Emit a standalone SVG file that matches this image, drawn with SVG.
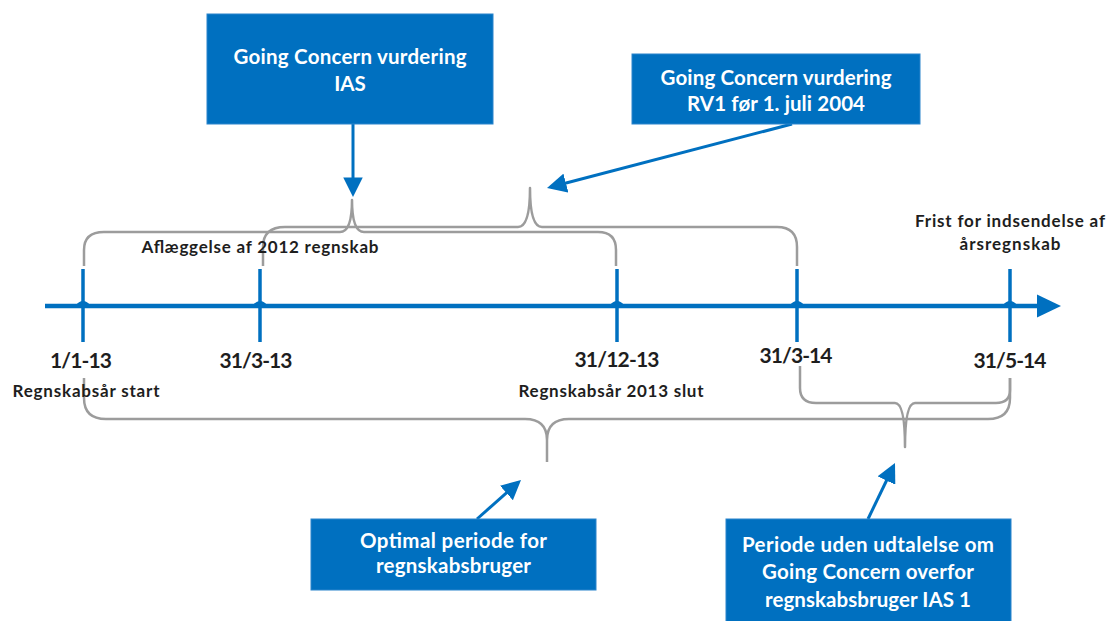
<svg xmlns="http://www.w3.org/2000/svg" width="1107" height="621" viewBox="0 0 1107 621">
  <style>
    .box { fill: #0070c0; stroke: #2a84cc; stroke-width: 1; }
    .bt { font-family: Lato, "Open Sans", sans-serif; font-weight: bold; font-size: 20.5px; fill: #ffffff; text-anchor: middle; }
    .date { font-family: Lato, "Open Sans", sans-serif; font-weight: bold; font-size: 21px; fill: #1e1e1e; text-anchor: middle; }
    .lbl { font-family: Lato, "Open Sans", sans-serif; font-weight: bold; font-size: 17px; fill: #1e1e1e; text-anchor: middle; }
    .brace { fill: none; stroke: #9c9c9c; stroke-width: 2.5; stroke-linejoin: round; }
    .conn { fill: none; stroke: #0070c0; stroke-width: 3; }
    .tl { fill: none; stroke: #0070c0; stroke-width: 4.5; }
    .tick { fill: none; stroke: #0070c0; stroke-width: 3.5; }
    .hump { fill: #0070c0; }
  </style>
  <defs>
    <marker id="ah" viewBox="0 0 10 10" refX="8" refY="5" markerWidth="6.5" markerHeight="6.5" orient="auto">
      <path d="M0,0 L10,5 L0,10 z" fill="#0070c0"/>
    </marker>
  </defs>

  <rect width="1107" height="621" fill="#ffffff"/>

  <!-- timeline -->
  <g id="timeline">
    <line class="tl" x1="45" y1="306" x2="1042" y2="306"/>
    <polygon points="1037,294.5 1061,306 1037,317.5" fill="#0070c0"/>
    <line class="tick" x1="83" y1="269" x2="83" y2="342"/>
    <line class="tick" x1="260" y1="269" x2="260" y2="342"/>
    <line class="tick" x1="617" y1="269" x2="617" y2="342"/>
    <line class="tick" x1="797" y1="269" x2="797" y2="342"/>
    <line class="tick" x1="1010" y1="269" x2="1010" y2="342"/>
    <path class="hump" d="M75,306 Q83,296 91,306 z M252,306 Q260,296 268,306 z M609,306 Q617,296 625,306 z M789,306 Q797,296 805,306 z M1002,306 Q1010,296 1018,306 z"/>
  </g>

  <!-- braces -->
  <g id="braces">
    <path id="brace-a" class="brace" d="M84,266 V250 Q84,232 104,232 H340 Q352,232 352,200 Q352,232 364,232 H598 Q616,232 616,250 V266"/>
    <path id="brace-b" class="brace" d="M263,266 V247 Q263,227 285,227 H518 Q530,227 530,188 Q530,227 542,227 H777 Q797,227 797,247 V266"/>
    <path id="brace-c" class="brace" d="M84,378 V398 Q84,419 106,419 H525 Q547,419 547,440 V462 M547,440 Q547,419 569,419 H988 Q1010,419 1010,398 V378"/>
    <path id="brace-d" class="brace" d="M800,366 V388 Q800,403 816,403 H895 Q905,403 905,447 Q905,403 915,403 H996 Q1010,403 1010,390 V378"/>
  </g>

  <!-- connectors -->
  <g id="connectors">
    <line class="conn" x1="353" y1="124" x2="353" y2="193" marker-end="url(#ah)"/>
    <line class="conn" x1="792" y1="124" x2="550.8" y2="187" marker-end="url(#ah)"/>
    <line class="conn" x1="477" y1="519" x2="518.1" y2="482.6" marker-end="url(#ah)"/>
    <line class="conn" x1="868" y1="519" x2="893.3" y2="466.5" marker-end="url(#ah)"/>
  </g>

  <!-- nodes -->
  <g id="node-gc-ias">
    <rect class="box" x="207" y="14" width="286" height="110"/>
    <text class="bt" x="350" y="64" textLength="233">Going Concern vurdering</text>
    <text class="bt" x="350" y="91">IAS</text>
  </g>
  <g id="node-gc-rv1">
    <rect class="box" x="632" y="54" width="288" height="70"/>
    <text class="bt" x="776" y="85" textLength="231">Going Concern vurdering</text>
    <text class="bt" x="776" y="111" textLength="178">RV1 før 1. juli 2004</text>
  </g>
  <g id="node-optimal">
    <rect class="box" x="311" y="519" width="285" height="71"/>
    <text class="bt" x="453.5" y="548" textLength="187">Optimal periode for</text>
    <text class="bt" x="453.5" y="573" textLength="155">regnskabsbruger</text>
  </g>
  <g id="node-periode">
    <rect class="box" x="726" y="519" width="285" height="110"/>
    <text class="bt" x="868" y="552" textLength="252">Periode uden udtalelse om</text>
    <text class="bt" x="868" y="579" textLength="212">Going Concern overfor</text>
    <text class="bt" x="868" y="607" textLength="206">regnskabsbruger IAS 1</text>
  </g>

  <!-- labels -->
  <g id="labels">
    <text class="lbl" x="260" y="253" font-size="17.5" textLength="237">Aflæggelse af 2012 regnskab</text>
    <text class="lbl" x="1010" y="227" textLength="190">Frist for indsendelse af</text>
    <text class="lbl" x="1010" y="250" textLength="101">årsregnskab</text>
    <text class="date" x="81" y="368" textLength="62">1/1-13</text>
    <text class="date" x="256" y="368" textLength="73">31/3-13</text>
    <text class="date" x="617" y="367" textLength="85">31/12-13</text>
    <text class="date" x="796" y="363" textLength="73">31/3-14</text>
    <text class="date" x="1010" y="368" textLength="73">31/5-14</text>
    <text class="lbl" x="86" y="397" textLength="147">Regnskabsår start</text>
    <text class="lbl" x="611" y="397" textLength="185">Regnskabsår 2013 slut</text>
  </g>
</svg>
